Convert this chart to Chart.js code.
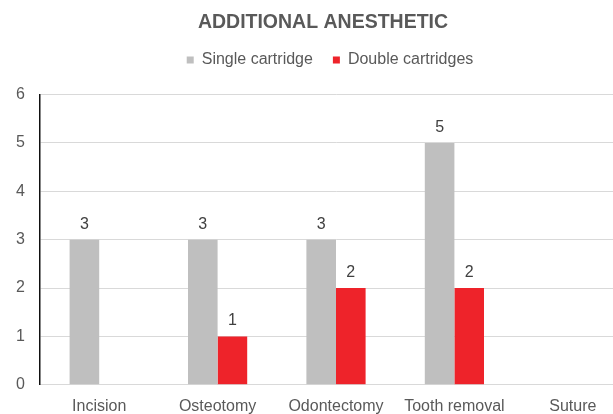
<!DOCTYPE html>
<html>
<head>
<meta charset="utf-8">
<script src="https://cdn.jsdelivr.net/npm/chart.js@4.4.1/dist/chart.umd.min.js"></script>
<style>
  html, body { margin: 0; padding: 0; background: #fff; overflow: hidden; }
  #wrap { width: 613px; height: 414px; overflow: hidden; }
  #chart { display: block; }
</style>
</head>
<body>
<div id="wrap">
  <canvas id="chart" width="632" height="414"></canvas>
</div>
<script>
// ---- Data ----
const categories = ['Incision', 'Osteotomy', 'Odontectomy', 'Tooth removal', 'Suture'];
const singleCartridge = [3, 3, 3, 5, 0];
const doubleCartridges = [0, 1, 2, 2, 0];
const yTicks = [0, 1, 2, 3, 4, 5, 6];

const FONT = "'Liberation Sans', Arial, sans-serif";
const TEXT = '#595959';

// value labels above bars (no datalabels plugin here)
const valueLabels = {
  id: 'valueLabels',
  afterDatasetsDraw(chart) {
    const ctx = chart.ctx;
    ctx.save();
    ctx.font = '16px ' + FONT;
    ctx.fillStyle = '#404040';
    ctx.textAlign = 'center';
    ctx.textBaseline = 'alphabetic';
    chart.data.datasets.forEach((ds, i) => {
      chart.getDatasetMeta(i).data.forEach((bar, j) => {
        const v = ds.data[j];
        if (!v) return; // empty cells get no label
        ctx.fillText(String(v), bar.x, bar.y - 11);
      });
    });
    ctx.restore();
  }
};

// legend: extra room below it, nudged a bit right like the original
const legendTweak = {
  id: 'legendTweak',
  beforeInit(chart) {
    const fit = chart.legend.fit;
    chart.legend.fit = function () {
      fit.bind(chart.legend)();
      this.height += 16.5;
    };
  },
  afterLayout(chart) {
    chart.legend.left += 7;
    chart.legend.right += 7;
  }
};

new Chart(document.getElementById('chart'), {
  type: 'bar',
  data: {
    labels: categories,
    datasets: [
      { label: 'Single cartridge', data: singleCartridge, backgroundColor: '#BFBFBF', borderWidth: 0 },
      { label: 'Double cartridges', data: doubleCartridges, backgroundColor: '#EE232A', borderWidth: 0 }
    ]
  },
  options: {
    responsive: false,
    animation: false,
    devicePixelRatio: 1,
    categoryPercentage: 0.5,
    barPercentage: 1,
    layout: { padding: { left: 14, right: 0, top: 0, bottom: -14 } },
    plugins: {
      title: {
        display: true,
        text: 'ADDITIONAL ANESTHETIC',
        color: TEXT,
        font: { family: FONT, size: 19.5, weight: 'bold', lineHeight: 1 },
        padding: { top: 12.5, bottom: 0 }
      },
      legend: {
        display: true,
        labels: { color: TEXT, font: { family: FONT, size: 16 }, boxWidth: 7, boxHeight: 7, padding: 20 }
      },
      tooltip: { enabled: false }
    },
    scales: {
      x: {
        grid: { display: false, drawTicks: false },
        border: { color: '#D9D9D9', width: 1 },
        ticks: { color: TEXT, font: { family: FONT, size: 16 }, padding: 12, maxRotation: 0, autoSkip: false }
      },
      y: {
        min: yTicks[0],
        max: yTicks[yTicks.length - 1],
        afterFit(scale) { scale.width = 26; },
        grid: { color: '#D9D9D9', drawTicks: false },
        border: { color: '#111111', width: 1.5 },
        ticks: { stepSize: 1, color: TEXT, font: { family: FONT, size: 16 }, padding: 15 }
      }
    }
  },
  plugins: [valueLabels, legendTweak]
});
</script>
</body>
</html>
